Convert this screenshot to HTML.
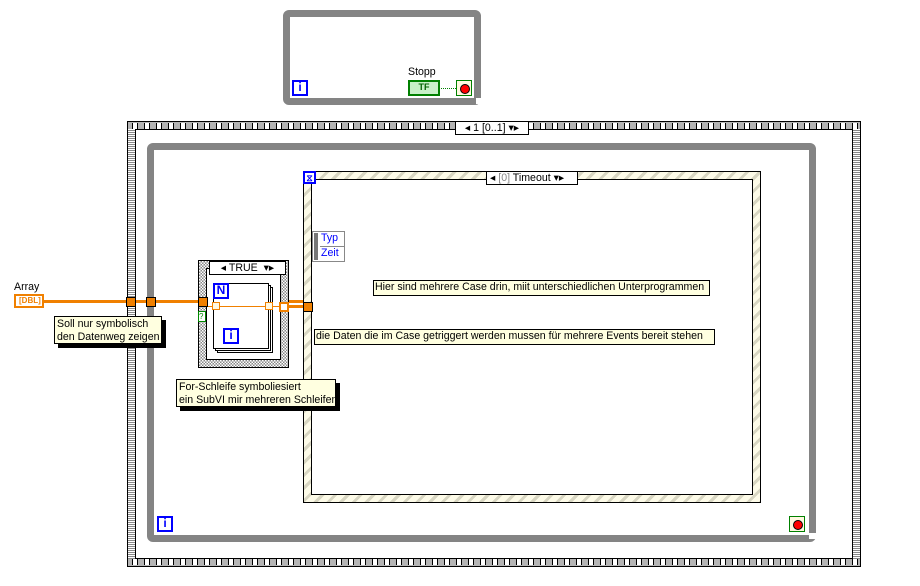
<!DOCTYPE html>
<html><head><meta charset="utf-8"><style>
body{margin:0;width:920px;height:586px;background:#fff;position:relative;overflow:hidden;font-family:"Liberation Sans",sans-serif;font-size:10.6px}
div{position:absolute;box-sizing:border-box}
.loop{border:7px solid #848484;border-radius:6px}
.icon{border:2px solid #0000ff;background:#fff;color:#0000ff;font-weight:bold;text-align:center;line-height:11px;font-size:12px}
.stripe{background:repeating-linear-gradient(135deg,#fdfbe8 0 6px,#d8d6c2 6px 9px);border:1px solid #000}
.tun{width:10px;height:10px;background:#f08000;border:1px solid #000}
.cmt{background:#ffffe0;border:1px solid #000;padding:1px 2px;line-height:13px;white-space:nowrap}
.stop{width:16px;height:16px;border:1px solid #008000;background:#fff8e0}
.stop:after{content:"";position:absolute;left:3px;top:3px;width:8px;height:8px;border-radius:50%;background:#f00;border:1px solid #000}
.sel{background:#fff;border:1px solid #000;height:14px;line-height:12px;text-align:center}
</style></head><body>
<!-- top loop -->
<div class="loop" style="left:283px;top:10px;width:198px;height:95px"></div>
<div style="left:476px;top:98px;width:6px;height:6px;background:#fff"></div>
<div class="icon" style="left:292px;top:80px;width:16px;height:16px">i</div>
<div style="left:408px;top:66px">Stopp</div>
<div style="left:408px;top:80px;width:32px;height:16px;border:2px solid #008000;background:#c8f0c8;font-size:9px;font-weight:bold;color:#006000;text-align:center;line-height:11px">TF</div>
<div style="left:441px;top:88px;width:15px;border-top:1px dotted #008000"></div>
<div class="stop" style="left:456px;top:80px"></div>
<!-- sequence -->
<div style="left:127px;top:121px;width:734px;height:446px;background:#b4b4b4;border:1px solid #000"></div>
<div style="left:129px;top:123px;width:730px;height:6px;background:repeating-linear-gradient(90deg,#b4b4b4 0 3px,#000 3px 4px,#fff 4px 8px,#000 8px 9px,#b4b4b4 9px 12px)"></div>
<div style="left:129px;top:559px;width:730px;height:6px;background:repeating-linear-gradient(90deg,#b4b4b4 0 3px,#000 3px 4px,#fff 4px 8px,#000 8px 9px,#b4b4b4 9px 12px)"></div>
<div style="left:128px;top:129px;width:7px;height:430px;background:repeating-linear-gradient(0deg,#888 0 1px,#fff 1px 2px)"></div>
<div style="left:853px;top:129px;width:7px;height:430px;background:repeating-linear-gradient(0deg,#888 0 1px,#fff 1px 2px)"></div>
<div style="left:135px;top:129px;width:718px;height:430px;background:#fff;border:1px solid #000"></div>
<div class="sel" style="left:455px;top:121px;width:74px">◂ 1 [0..1] ▾▸</div>
<!-- main loop -->
<div class="loop" style="left:147px;top:143px;width:669px;height:399px"></div>
<div style="left:809px;top:533px;width:8px;height:6px;background:#fff"></div>
<div class="icon" style="left:157px;top:516px;width:16px;height:16px">i</div>
<div class="stop" style="left:789px;top:516px"></div>
<!-- event struct -->
<div class="stripe" style="left:303px;top:171px;width:458px;height:332px"></div>
<div style="left:311px;top:179px;width:442px;height:316px;background:#fff;border:1px solid #000"></div>
<div class="icon" style="left:303px;top:171px;width:13px;height:13px;font-size:9px">⧖</div>
<div class="sel" style="left:486px;top:171px;width:92px;text-align:left;padding-left:3px">◂ <span style="color:#888">[0]</span> Timeout ▾▸</div>
<div style="left:312px;top:231px;width:33px;height:31px;background:#fff;border:1px solid #888"></div>
<div style="left:314px;top:233px;width:4px;height:27px;background:#777"></div>
<div style="left:321px;top:231px;color:#00f;line-height:15px">Typ<br>Zeit</div>
<div style="left:320px;top:246px;width:25px;border-top:1px solid #888"></div>
<div class="cmt" style="left:373px;top:280px;width:337px;height:16px;padding:0 1px">Hier sind mehrere Case drin, miit unterschiedlichen Unterprogrammen</div>
<div class="cmt" style="left:314px;top:329px;width:401px;height:16px;padding:0 1px">die Daten die im Case getriggert werden mussen für mehrere Events bereit stehen</div>
<!-- wire -->
<div style="left:43px;top:300px;width:260px;height:3px;background:#f08000"></div>
<div style="left:14px;top:281px">Array</div>
<div style="left:14px;top:294px;width:30px;height:14px;border:2px solid #f08000;font-size:8px;font-weight:bold;color:#f08000;line-height:10px;padding-left:3px">[DBL]</div>
<div class="tun" style="left:126px;top:297px"></div>
<div class="tun" style="left:146px;top:297px"></div>
<!-- case -->
<div style="left:198px;top:260px;width:91px;height:108px;border:1px solid #000;background:repeating-conic-gradient(#888 0 25%,#fff 0 50%) 0 0/3px 3px"></div>
<div style="left:206px;top:268px;width:75px;height:92px;background:#fff;border:1px solid #000"></div>
<div class="sel" style="left:209px;top:261px;width:77px">◂ TRUE &nbsp;▾▸</div>
<div style="left:217px;top:287px;width:56px;height:66px;border:1px solid #000;background:#fff"></div>
<div style="left:215px;top:285px;width:56px;height:66px;border:1px solid #000;background:#fff"></div>
<div style="left:213px;top:283px;width:56px;height:66px;border:1px solid #000;background:#fff"></div>
<div class="icon" style="left:213px;top:283px;width:16px;height:16px">N</div>
<div class="icon" style="left:223px;top:328px;width:16px;height:16px">i</div>
<div style="left:205px;top:306px;width:75px;height:1px;background:#f08000"></div>
<div class="tun" style="left:198px;top:297px"></div>
<div style="left:212px;top:302px;width:8px;height:8px;border:1px solid #f08000;background:#fff8e0"></div>
<div style="left:265px;top:302px;width:8px;height:8px;border:1px solid #f08000;background:#fff8e0"></div>
<div style="left:279px;top:302px;width:10px;height:10px;border:2px solid #f08000;background:#fff"></div>
<div style="left:288px;top:305px;width:18px;height:3px;background:#f08000"></div>
<div class="tun" style="left:303px;top:302px"></div>
<div style="left:198px;top:311px;width:8px;height:11px;border:1px solid #080;color:#080;font-size:8px;line-height:9px;background:#fff">?</div>
<!-- comments -->
<div style="left:58px;top:320px;width:108px;height:28px;background:#000"></div>
<div class="cmt" style="left:54px;top:316px;width:108px;height:28px">Soll nur symbolisch<br>den Datenweg zeigen</div>
<div style="left:180px;top:383px;width:160px;height:28px;background:#000"></div>
<div class="cmt" style="left:176px;top:379px;width:160px;height:28px">For-Schleife symboliesiert<br>ein SubVI mir mehreren Schleifen</div>
</body></html>
